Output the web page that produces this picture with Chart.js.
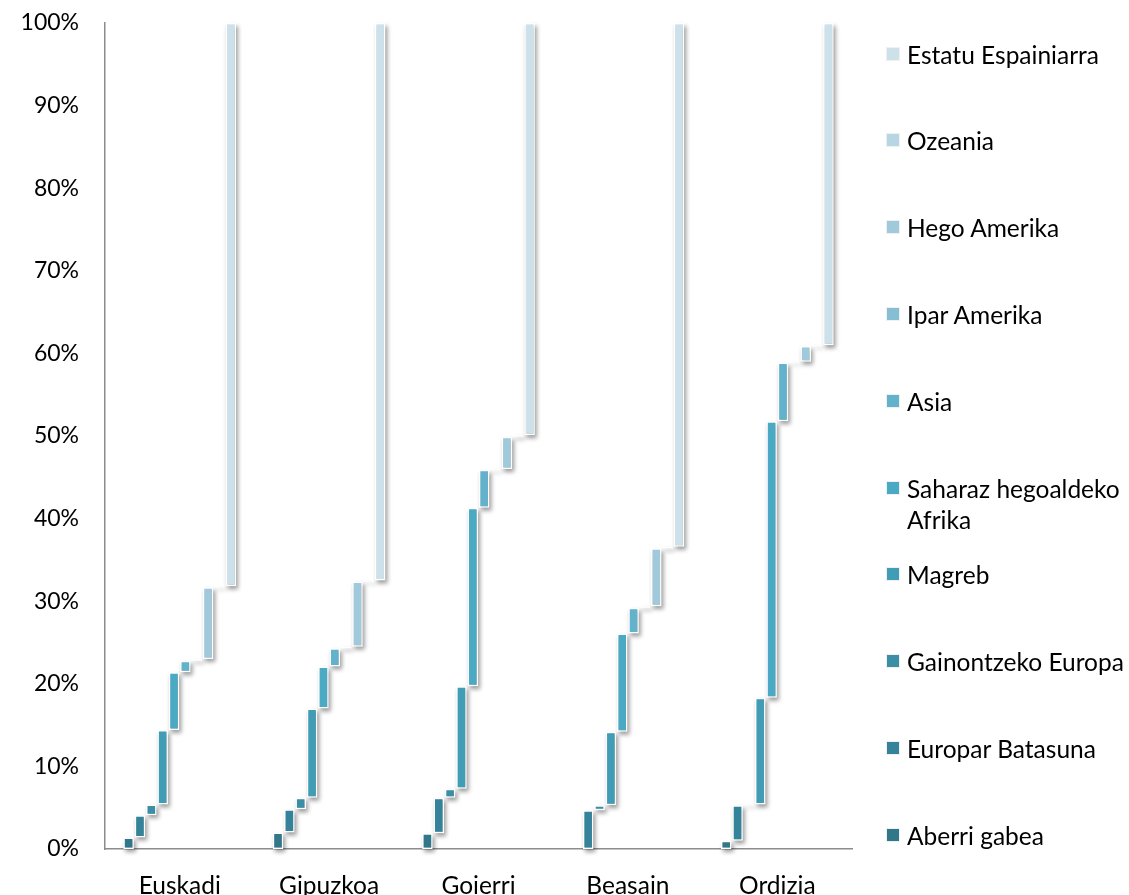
<!DOCTYPE html>
<html>
<head>
<meta charset="utf-8">
<script src="https://cdn.jsdelivr.net/npm/chart.js@4/dist/chart.umd.min.js"></script>
<style>
  html, body { margin: 0; padding: 0; background: #fff; }
  #wrap { position: relative; width: 1129px; height: 895px; overflow: hidden; }
  #chart { position: absolute; left: 0; top: 0; }
  #legend { position: absolute; left: 0; top: 0; font-family: Lato, sans-serif; font-size: 24.5px; color: #000; }
  .item { position: absolute; left: 887px; width: 242px; line-height: 31px; }
  .box { position: absolute; left: 0; top: 9px; width: 12px; height: 12px; box-shadow: 0 0 0 1px rgba(230,230,230,0.6); }
  .label { margin-left: 20px; }
</style>
</head>
<body>
<div id="wrap">
  <canvas id="chart" width="1129" height="895"></canvas>
  <div id="legend"></div>
</div>
<script>
// Categories
const categories = ["Euskadi", "Gipuzkoa", "Goierri", "Beasain", "Ordizia"];

// Share of population by origin (%), one array per origin
const aberriGabea        = [1.4, 2.0, 1.9, 0.0, 1.0];
const europarBatasuna    = [2.7, 2.8, 4.3, 4.7, 4.3];
const gainontzekoEuropa  = [1.3, 1.4, 1.1, 0.6, 0.1];
const magreb             = [9.0, 10.8, 12.4, 8.9, 12.9];
const saharazHegoaldeko  = [7.0, 5.1, 21.6, 11.9, 33.5];
const asia               = [1.4, 2.2, 4.6, 3.1, 7.1];
const iparAmerika        = [0.2, 0.2, 0.1, 0.2, 0.1];
const hegoAmerika        = [8.7, 7.9, 3.9, 7.0, 1.9];
const ozeania            = [0.1, 0.1, 0.2, 0.2, 0.1];
const estatuEspainiarra  = [68.2, 67.5, 49.9, 63.4, 39.0];

// Series names (bottom to top) and y-axis ticks
const seriesNames = ["Aberri gabea", "Europar Batasuna", "Gainontzeko Europa", "Magreb",
  "Saharaz hegoaldeko Afrika", "Asia", "Ipar Amerika", "Hego Amerika", "Ozeania", "Estatu Espainiarra"];
const seriesValues = [aberriGabea, europarBatasuna, gainontzekoEuropa, magreb,
  saharazHegoaldeko, asia, iparAmerika, hegoAmerika, ozeania, estatuEspainiarra];
const yTicks = [0, 10, 20, 30, 40, 50, 60, 70, 80, 90, 100];

const colors = ["#31778a", "#35839a", "#3a8fa7", "#419cb5", "#4aa9c3",
  "#63b2cb", "#86bed3", "#a0cadb", "#b6d6e3", "#cce1ea"];

const FONT = "Lato, sans-serif";

// Floating bars: each series starts where the previous one ends
const running = categories.map(() => 0);
const datasets = seriesValues.map((vals, i) => {
  const data = vals.map((v, c) => {
    const start = running[c];
    running[c] += v;
    return v > 0 ? [start, start + v] : null;
  });
  return {
    label: seriesNames[i],
    data,
    backgroundColor: colors[i],
    borderColor: "#ffffff",
    borderWidth: 1.5,
    borderSkipped: false,
    categoryPercentage: 0.76,
    barPercentage: 0.93
  };
});

// Soft drop shadow under every bar
const barShadow = {
  id: "barShadow",
  beforeDatasetsDraw(chart) {
    const ctx = chart.ctx;
    const shift = 5000;
    ctx.save();
    ctx.shadowColor = "rgba(0,0,0,0.38)";
    ctx.shadowBlur = 4;
    ctx.shadowOffsetX = shift + 2;
    ctx.shadowOffsetY = 3;
    ctx.fillStyle = "#000";
    chart.data.datasets.forEach((ds, i) => {
      chart.getDatasetMeta(i).data.forEach(bar => {
        const { x, y, base, width } = bar.getProps(["x", "y", "base", "width"], true);
        if (!isFinite(y) || !isFinite(base)) return;
        ctx.fillRect(x - width / 2 - shift, Math.min(y, base), width, Math.abs(base - y));
      });
    });
    ctx.restore();
  }
};

const ctx = document.getElementById("chart").getContext("2d");
const chart = new Chart(ctx, {
  type: "bar",
  data: { labels: categories, datasets },
  plugins: [barShadow],
  options: {
    responsive: false,
    animation: false,
    layout: { padding: { left: 0, right: 277, top: 23, bottom: 0 } },
    plugins: { legend: { display: false }, tooltip: { enabled: false } },
    scales: {
      x: {
        grid: { display: false, drawTicks: false },
        border: { display: true, color: "#8c8c8c", width: 1.5 },
        ticks: { color: "#000", font: { family: FONT, size: 24.5 }, padding: 22 },
        afterFit: s => { s.height = 46; }
      },
      y: {
        min: 0,
        max: 100,
        grid: { display: false, drawTicks: false },
        border: { display: true, color: "#8c8c8c", width: 1.5 },
        afterBuildTicks: s => { s.ticks = yTicks.map(v => ({ value: v })); },
        ticks: {
          color: "#000",
          font: { family: FONT, size: 23 },
          padding: 26,
          callback: v => v + "%"
        },
        afterFit: s => { s.width = 105; s.paddingTop = 0; s.paddingBottom = 0; }
      }
    }
  }
});

// Legend, top item is the last series
const legend = document.getElementById("legend");
seriesNames.slice().reverse().forEach((name, i) => {
  const item = document.createElement("div");
  item.className = "item";
  item.style.top = (54 + 86.8 * i - 15.5) + "px";
  const box = document.createElement("span");
  box.className = "box";
  box.style.background = colors[seriesNames.length - 1 - i];
  const label = document.createElement("div");
  label.className = "label";
  label.textContent = name;
  item.appendChild(box);
  item.appendChild(label);
  legend.appendChild(item);
});
</script>
</body>
</html>
